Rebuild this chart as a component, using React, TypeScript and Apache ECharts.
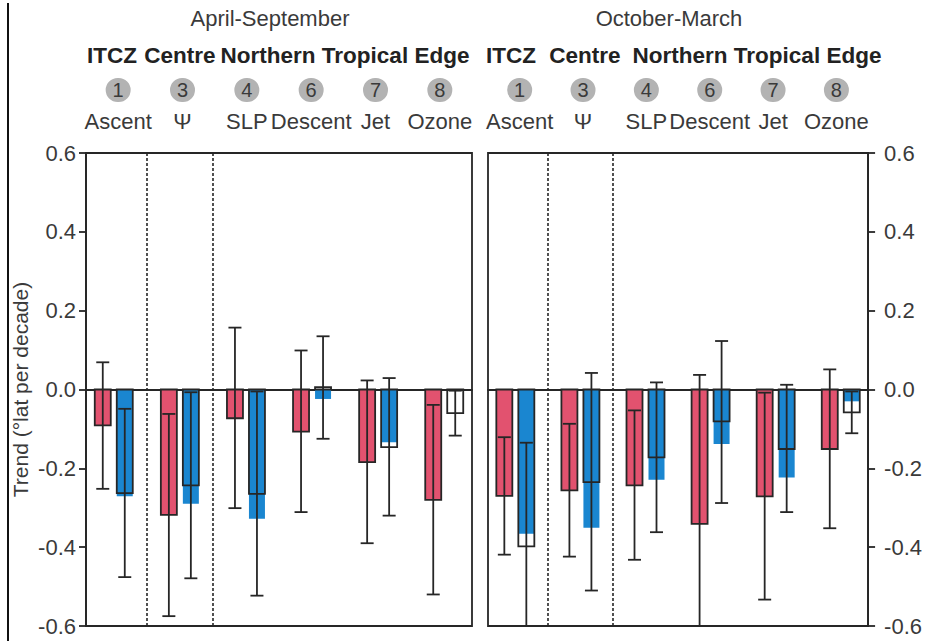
import React, { useEffect, useRef } from "react";
import * as echarts from "echarts";

// ---------- data ----------
const categories = ["Ascent", "Ψ", "SLP", "Descent", "Jet", "Ozone"];
const metricNumbers = ["1", "3", "4", "6", "7", "8"];
const periods = ["April-September", "October-March"];
const regionHeads = ["ITCZ", "Centre", "Northern Tropical Edge"];
const separators = [0.5, 1.5];
const yMin = -0.6;
const yMax = 0.6;
const yStep = 0.2;

// April-September — red
const redTrendAS = [-0.091, -0.318, -0.073, -0.107, -0.184, -0.28];
const redLowAS = [-0.252, -0.575, -0.301, -0.311, -0.39, -0.52];
const redHighAS = [0.069, -0.062, 0.157, 0.099, 0.023, -0.039];
// April-September — blue
const blueTrendAS = [-0.263, -0.243, -0.265, 0.006, -0.146, -0.06];
const blueFillAS = [-0.271, -0.29, -0.328, -0.024, -0.134, 0];
const blueLowAS = [-0.476, -0.479, -0.523, -0.125, -0.32, -0.117];
const blueHighAS = [-0.049, -0.007, -0.005, 0.135, 0.029, -0.003];

// October-March — red
const redTrendOM = [-0.27, -0.256, -0.243, -0.341, -0.271, -0.151];
const redLowOM = [-0.419, -0.424, -0.432, -0.719, -0.533, -0.352];
const redHighOM = [-0.121, -0.087, -0.053, 0.037, -0.008, 0.051];
// October-March — blue
const blueTrendOM = [-0.398, -0.235, -0.172, -0.081, -0.151, -0.058];
const blueFillOM = [-0.366, -0.351, -0.229, -0.138, -0.223, -0.03];
const blueLowOM = [-0.661, -0.51, -0.362, -0.288, -0.311, -0.111];
const blueHighOM = [-0.135, 0.042, 0.018, 0.123, 0.012, -0.005];

// ---------- style ----------
const FONT = "'Liberation Sans', Arial, Helvetica, sans-serif";
const INK = "#262626";
const TEXT = "#3a3a3a";
const RED = "#E2526F";
const BLUE = "#1A86D0";
const BAR_W = 16;
const OFFSET = 11;
const CAP_W = 13;
const LW = 1.8;
const X_MIN = -0.42;
const X_MAX = 5.42;

const grids = [
  { left: 86, top: 153, width: 386, height: 473 },
  { left: 488, top: 153, width: 385, height: 473 },
];

function makeRenderItem(offset: number, color: string) {
  return (params: any, api: any) => {
    const x = api.value(0);
    const fillV = api.value(1);
    const outV = api.value(2);
    const lo = api.value(3);
    const hi = api.value(4);
    const cs = params.coordSys;
    const top = cs.y;
    const bottom = cs.y + cs.height;
    const clampY = (y: number) => Math.min(Math.max(y, top), bottom);
    const base = api.coord([x, 0]);
    const cx = base[0] + offset;
    const y0 = base[1];
    const yF = api.coord([x, fillV])[1];
    const yO = api.coord([x, outV])[1];
    const yLoRaw = api.coord([x, lo])[1];
    const yHiRaw = api.coord([x, hi])[1];
    const yLo = clampY(yLoRaw);
    const yHi = clampY(yHiRaw);
    const children: any[] = [];
    if (Math.abs(yF - y0) > 0.2) {
      children.push({
        type: "rect",
        shape: { x: cx - BAR_W / 2, y: Math.min(y0, yF), width: BAR_W, height: Math.abs(yF - y0) },
        style: { fill: color },
      });
    }
    children.push({
      type: "rect",
      shape: { x: cx - BAR_W / 2, y: Math.min(y0, yO), width: BAR_W, height: Math.abs(yO - y0) },
      style: { fill: "none", stroke: INK, lineWidth: LW },
    });
    children.push({
      type: "line",
      shape: { x1: cx, y1: yHi, x2: cx, y2: yLo },
      style: { stroke: INK, lineWidth: LW },
    });
    if (yHiRaw >= top && yHiRaw <= bottom) {
      children.push({
        type: "line",
        shape: { x1: cx - CAP_W / 2, y1: yHi, x2: cx + CAP_W / 2, y2: yHi },
        style: { stroke: INK, lineWidth: LW },
      });
    }
    if (yLoRaw >= top && yLoRaw <= bottom) {
      children.push({
        type: "line",
        shape: { x1: cx - CAP_W / 2, y1: yLo, x2: cx + CAP_W / 2, y2: yLo },
        style: { stroke: INK, lineWidth: LW },
      });
    }
    return { type: "group", children };
  };
}

function rows(fill: number[], out: number[], lo: number[], hi: number[]) {
  return categories.map((_, i) => [i, fill[i], out[i], lo[i], hi[i]]);
}

const panelData = [
  {
    red: rows(redTrendAS, redTrendAS, redLowAS, redHighAS),
    blue: rows(blueFillAS, blueTrendAS, blueLowAS, blueHighAS),
  },
  {
    red: rows(redTrendOM, redTrendOM, redLowOM, redHighOM),
    blue: rows(blueFillOM, blueTrendOM, blueLowOM, blueHighOM),
  },
];

// header layout (pixel centres)
const periodX = [270, 669];
const headX = [
  [112, 180, 345],
  [511, 585, 757],
];

function buildOption() {
  const xAxes: any[] = [];
  const yAxes: any[] = [];
  const series: any[] = [];
  grids.forEach((_, g) => {
    xAxes.push({
      type: "value",
      gridIndex: g,
      min: X_MIN,
      max: X_MAX,
      position: "bottom",
      axisLine: { show: true, onZero: true, lineStyle: { color: INK, width: LW } },
      axisTick: { show: false },
      axisLabel: { show: false },
      splitLine: { show: false },
    });
    xAxes.push({
      type: "category",
      gridIndex: g,
      position: "top",
      data: categories,
      boundaryGap: true,
      axisLine: { show: false, onZero: false },
      axisTick: { show: false },
      splitLine: { show: false },
      axisLabel: {
        interval: 0,
        margin: 13,
        fontFamily: FONT,
        formatter: (v: string, i: number) => `{c|${metricNumbers[i]}}\n{n|${v}}`,
        rich: {
          c: {
            backgroundColor: "#b3b3b3",
            borderRadius: 12.5,
            width: 25,
            height: 24,
            lineHeight: 24,
            align: "center",
            fontSize: 20,
            color: TEXT,
            fontFamily: FONT,
          },
          n: {
            fontSize: 22,
            lineHeight: 38,
            color: TEXT,
            align: "center",
            fontFamily: FONT,
          },
        },
      },
    });
    yAxes.push({
      type: "value",
      gridIndex: g,
      position: g === 0 ? "left" : "right",
      min: yMin,
      max: yMax,
      interval: yStep,
      name: g === 0 ? "Trend (°lat per decade)" : "",
      nameLocation: "middle",
      nameGap: 55,
      nameTextStyle: { fontSize: 21, color: TEXT, fontFamily: FONT },
      axisLine: { show: true, onZero: false, lineStyle: { color: INK, width: LW } },
      axisTick: { show: true, inside: false, length: 7, lineStyle: { color: INK, width: LW } },
      axisLabel: {
        fontSize: 22,
        color: TEXT,
        fontFamily: FONT,
        margin: g === 0 ? 10 : 16,
        formatter: (v: number) => (Math.abs(v) < 1e-9 ? "0.0" : v.toFixed(1)),
      },
      splitLine: { show: false },
    });
    const vx = g * 2;
    series.push({
      type: "scatter",
      xAxisIndex: vx,
      yAxisIndex: g,
      data: [],
      silent: true,
      markLine: {
        silent: true,
        symbol: "none",
        label: { show: false },
        lineStyle: { type: [3, 2], color: INK, width: 1.6 },
        data: separators.map((s) => ({ xAxis: s })),
      },
    });
    series.push({
      type: "custom",
      xAxisIndex: vx,
      yAxisIndex: g,
      renderItem: makeRenderItem(-OFFSET, RED),
      encode: { x: 0, y: 2 },
      data: panelData[g].red,
      z: 3,
    });
    series.push({
      type: "custom",
      xAxisIndex: vx,
      yAxisIndex: g,
      renderItem: makeRenderItem(OFFSET, BLUE),
      encode: { x: 0, y: 2 },
      data: panelData[g].blue,
      z: 3,
    });
  });

  const graphic: any[] = [
    {
      type: "line",
      shape: { x1: 8, y1: 3, x2: 8, y2: 641 },
      style: { stroke: "#111", lineWidth: 2 },
      silent: true,
    },
  ];
  periods.forEach((p, g) => {
    graphic.push({
      type: "text",
      x: periodX[g],
      y: 18,
      style: {
        text: p,
        fontSize: 22,
        fill: TEXT,
        fontFamily: FONT,
        align: "center",
        verticalAlign: "middle",
      },
    });
    regionHeads.forEach((h, k) => {
      graphic.push({
        type: "text",
        x: headX[g][k],
        y: 55,
        style: {
          text: h,
          fontSize: 22.5,
          fontWeight: "bold",
          fill: "#222",
          fontFamily: FONT,
          align: "center",
          verticalAlign: "middle",
        },
      });
    });
  });

  return {
    animation: false,
    backgroundColor: "#ffffff",
    textStyle: { fontFamily: FONT },
    grid: grids.map((gr) => ({
      ...gr,
      show: true,
      borderColor: INK,
      borderWidth: LW,
      backgroundColor: "transparent",
      containLabel: false,
    })),
    xAxis: xAxes,
    yAxis: yAxes,
    series,
    graphic,
  };
}

export default function App() {
  const ref = useRef<HTMLDivElement>(null);
  useEffect(() => {
    if (!ref.current) return;
    const chart = echarts.init(ref.current, undefined, { renderer: "svg" });
    chart.setOption(buildOption() as any);
    return () => chart.dispose();
  }, []);
  return (
    <div
      ref={ref}
      style={{ position: "fixed", left: 0, top: 0, width: 925, height: 641, background: "#fff" }}
    />
  );
}
